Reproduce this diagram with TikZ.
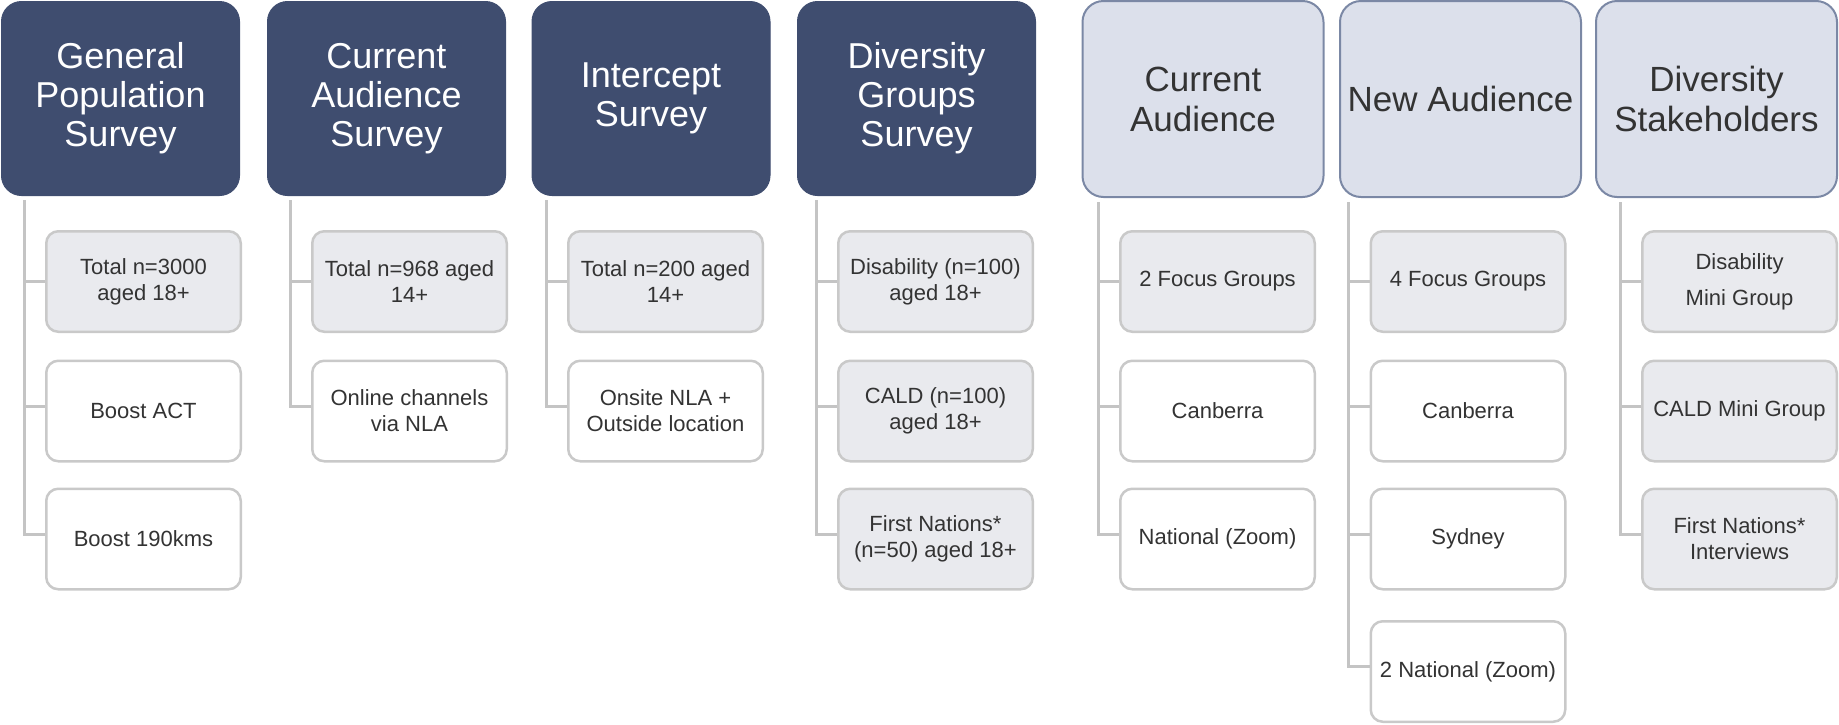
\documentclass[tikz,border=0pt]{standalone}
\usepackage{fontspec}
\setmainfont{Liberation Sans}
\definecolor{navy}{HTML}{3F4D6F}
\definecolor{lhfill}{HTML}{DCE0EB}
\definecolor{lhborder}{HTML}{7B88A5}
\definecolor{cfill}{HTML}{E9EAEE}
\definecolor{cborder}{HTML}{C9C9C9}
\definecolor{connc}{HTML}{C4C4C4}
\definecolor{txt}{HTML}{333333}
\begin{document}
\begin{tikzpicture}[x=1pt,y=-1pt,
  darkhead/.style={draw=navy, fill=navy, line width=1pt, rounded corners=20pt,
    minimum width=238pt, minimum height=194pt, inner sep=0pt, text=white,
    align=center, font=\fontsize{36}{39}\selectfont},
  lighthead/.style={draw=lhborder, fill=lhfill, line width=2pt, rounded corners=21pt,
    minimum width=241pt, minimum height=196pt, inner sep=0pt, text=txt,
    align=center, font=\fontsize{35}{40}\selectfont},
  childbox/.style={draw=cborder, line width=2.5pt, rounded corners=12pt,
    minimum width=194.5pt, minimum height=100.5pt, inner sep=0pt, text=txt,
    align=center, font=\fontsize{22}{26}\selectfont},
  gbox/.style={childbox, fill=cfill},
  wbox/.style={childbox, fill=white},
  conn/.style={draw=connc, line width=3pt}]
\useasboundingbox (0,0) rectangle (1839,724);

% headers
\node[darkhead] (h1) at (120.5,98.5) {General\\Population\\Survey};
\node[darkhead] (h2) at (386.5,98.5) {Current\\Audience\\Survey};
\node[darkhead] (h3) at (651,98.5) {Intercept\\Survey};
\node[darkhead] (h4) at (916.5,98.5) {Diversity\\Groups\\Survey};
\node[lighthead] (h5) at (1203,99) {Current\\Audience};
\node[lighthead] (h6) at (1460.5,99) {New Audience};
\node[lighthead] (h7) at (1716.5,99) {Diversity\\Stakeholders};

% children
\def\ra{281.5}\def\rb{411}\def\rc{539}\def\rd{671.5}
\node[gbox] (c11) at (143.5,\ra) {Total n=3000\\aged 18+};
\node[wbox] (c12) at (143.5,\rb) {Boost ACT};
\node[wbox] (c13) at (143.5,\rc) {Boost 190kms};

\node[gbox] (c21) at (409.5,\ra) {Total n=968 aged\\14+};
\node[wbox] (c22) at (409.5,\rb) {Online channels\\via NLA};

\node[gbox] (c31) at (665.5,\ra) {Total n=200 aged\\14+};
\node[wbox] (c32) at (665.5,\rb) {Onsite NLA +\\Outside location};

\node[gbox] (c41) at (935.5,\ra) {Disability (n=100)\\aged 18+};
\node[gbox] (c42) at (935.5,\rb) {CALD (n=100)\\aged 18+};
\node[gbox] (c43) at (935.5,\rc) {First Nations*\\(n=50) aged 18+};

\node[gbox] (c51) at (1217.5,\ra) {2 Focus Groups};
\node[wbox] (c52) at (1217.5,\rb) {Canberra};
\node[wbox] (c53) at (1217.5,\rc) {National (Zoom)};

\node[gbox] (c61) at (1468,\ra) {4 Focus Groups};
\node[wbox] (c62) at (1468,\rb) {Canberra};
\node[wbox] (c63) at (1468,\rc) {Sydney};
\node[wbox] (c64) at (1468,\rd) {2 National (Zoom)};

\node[gbox] (c71) at (1739.5,\ra) {Disability\\[10pt]Mini Group};
\node[gbox] (c72) at (1739.5,\rb) {CALD Mini Group};
\node[gbox] (c73) at (1739.5,\rc) {First Nations*\\Interviews};

% connectors
\foreach \h/\c/\last/\others in {h1/c1/3/{2,3}, h2/c2/2/{2}, h3/c3/2/{2}, h4/c4/3/{2,3}, h5/c5/3/{2,3}, h6/c6/4/{2,3,4}, h7/c7/3/{2,3}}{
  \coordinate (t\h) at ([xshift=-21pt]\c1.west |- \h.south);
  \draw[conn] ([yshift=-4pt]t\h) |- ([yshift=5pt]\c\last.west);
  \draw[conn] (t\h |- \c1.west) -- (\c1.west);
  \foreach \r in \others {
    \draw[conn] ([yshift=5pt]t\h |- \c\r.west) -- ([yshift=5pt]\c\r.west);
  }
}
\end{tikzpicture}
\end{document}
